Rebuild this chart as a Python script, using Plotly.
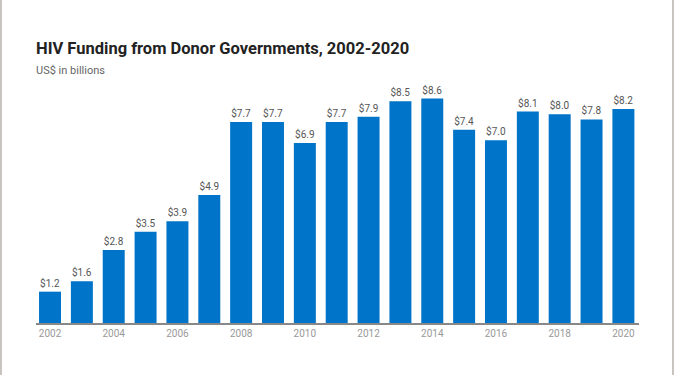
import plotly.graph_objects as go

years = list(range(2002, 2021))
values = [1.2, 1.6, 2.8, 3.5, 3.9, 4.9, 7.7, 7.7, 6.9, 7.7, 7.9, 8.5, 8.6, 7.4, 7.0, 8.1, 8.0, 7.8, 8.2]
labels = [f"${v:.1f}" for v in values]
tick_years = list(range(2002, 2021, 2))

W, H = 675, 375
ml, mr, mt, mb = 36, 36, 62, 52
pw, ph = W - ml - mr, H - mt - mb

fig = go.Figure(go.Bar(
    x=years, y=values, text=labels, textposition="outside",
    textfont=dict(family="Roboto", size=10, color="#555555"),
    marker=dict(color="#0074C8", line=dict(width=0)),
    width=0.69, cliponaxis=False, hoverinfo="skip",
))

fig.update_layout(
    width=W, height=H,
    margin=dict(l=ml, r=mr, t=mt, b=mb),
    paper_bgcolor="white", plot_bgcolor="white",
    font=dict(family="Roboto"),
    showlegend=False,
    xaxis=dict(range=[2001.56, 2020.49], tickmode="array", tickvals=tick_years,
               ticktext=[str(y) for y in tick_years], showgrid=False, zeroline=False,
               showline=True, linecolor="#888888", linewidth=1.5, ticks="",
               tickfont=dict(family="Roboto", size=10, color="#999999")),
    yaxis=dict(range=[0, 10], visible=False),
    annotations=[
        dict(text="<b>HIV Funding from Donor Governments, 2002-2020</b>", xref="paper", yref="paper",
             x=-2 / pw, xanchor="left", y=1 + (mt - 48) / ph, yanchor="middle",
             showarrow=False, font=dict(family="Roboto", size=16.5, color="#222222")),
        dict(text="US$ in billions", xref="paper", yref="paper",
             x=-2 / pw, xanchor="left", y=1 + (mt - 71) / ph, yanchor="middle",
             showarrow=False, font=dict(family="Roboto", size=11, color="#666666")),
    ],
    shapes=[
        dict(type="line", xref="paper", yref="paper", x0=-(ml - 1) / pw, x1=-(ml - 1) / pw,
             y0=-mb / ph, y1=1 + mt / ph, line=dict(color="#c8c4c0", width=2)),
        dict(type="line", xref="paper", yref="paper", x0=1 + (mr - 2) / pw, x1=1 + (mr - 2) / pw,
             y0=-mb / ph, y1=1 + mt / ph, line=dict(color="#c8c4c0", width=2)),
    ],
)

fig.write_html("out.html", config={"displayModeBar": False},
               post_script="document.body.style.margin='0px';document.body.style.overflow='hidden';")
